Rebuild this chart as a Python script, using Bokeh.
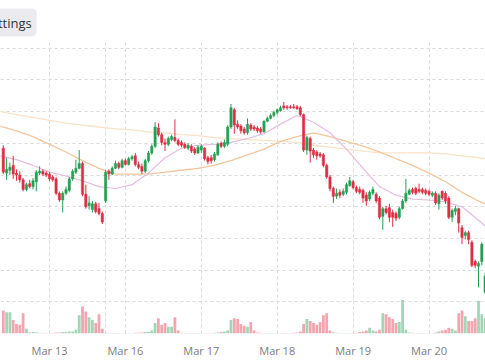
from bokeh.plotting import figure
from bokeh.models import Range1d, FixedTicker, ColumnDataSource
from bokeh.embed import file_html
from bokeh.resources import INLINE

# hourly candle index (0 = Mar 13 00:00, weekend skipped)
hour_index = list(range(-14, 133))

opens = [350, 324, 327, 332, 324, 322, 317, 307, 313, 310,
         315, 324, 326, 324, 323, 320, 318, 303, 296, 303,
         306, 318, 325, 329, 334, 302, 290, 286, 292, 287,
         282, 295, 326, 323, 329, 334, 330, 337, 333, 339,
         342, 333, 331, 326, 337, 345, 352, 371, 364, 356,
         354, 359, 361, 358, 356, 354, 350, 352, 349, 345,
         348, 350, 340, 340, 338, 343, 355, 352, 354, 372,
         390, 375, 373, 370, 366, 374, 372, 371, 370, 367,
         378, 381, 384, 387, 389, 394, 393, 393, 393, 393,
         392, 385, 348, 360, 348, 346, 344, 343, 332, 320,
         308, 300, 304, 302, 304, 311, 315, 309, 307, 306,
         301, 297, 303, 302, 298, 279, 287, 288, 283, 282,
         278, 287, 295, 302, 307, 308, 307, 307, 306, 305,
         301, 303, 292, 305, 303, 298, 278, 284, 287, 267,
         259, 262, 252, 232, 227, 232, 200]
closes = [325, 328, 330, 323, 322, 317, 307, 312, 310, 316,
          325, 326, 323, 322, 318, 317, 303, 296, 303, 307,
          318, 326, 329, 334, 302, 289, 293, 292, 284, 282,
          273, 325, 323, 329, 334, 330, 337, 333, 339, 341,
          333, 330, 326, 337, 345, 352, 372, 364, 356, 354,
          360, 362, 358, 354, 353, 351, 353, 347, 345, 351,
          352, 339, 336, 337, 344, 354, 352, 356, 372, 392,
          374, 372, 368, 366, 375, 370, 370, 368, 367, 378,
          381, 384, 387, 390, 392, 392, 392, 392, 392, 391,
          385, 348, 361, 347, 343, 342, 342, 332, 320, 308,
          300, 303, 301, 305, 312, 316, 309, 305, 304, 298,
          295, 304, 307, 295, 278, 287, 283, 278, 278, 277,
          287, 295, 303, 306, 304, 303, 305, 304, 303, 302,
          303, 293, 301, 298, 295, 278, 285, 287, 272, 257,
          262, 255, 228, 228, 230, 250, 217]
highs = [353, 340, 335, 342, 328, 326, 319, 314, 317, 319,
         327, 331, 328, 326, 325, 322, 320, 305, 305, 310,
         320, 328, 338, 348, 336, 312, 300, 295, 294, 293,
         284, 327, 328, 331, 337, 336, 339, 339, 341, 343,
         345, 336, 334, 339, 347, 354, 377, 376, 366, 360,
         362, 364, 380, 360, 358, 356, 355, 354, 351, 353,
         354, 351, 342, 343, 346, 356, 357, 359, 374, 396,
         392, 379, 375, 372, 381, 376, 374, 373, 372, 379,
         383, 386, 389, 391, 394, 398, 395, 395, 396, 395,
         394, 386, 363, 362, 350, 348, 346, 345, 334, 322,
         310, 308, 307, 308, 314, 320, 317, 311, 310, 308,
         304, 306, 310, 304, 300, 289, 290, 292, 286, 284,
         289, 297, 318, 308, 309, 310, 313, 309, 308, 307,
         305, 305, 303, 306, 305, 300, 287, 290, 288, 270,
         264, 264, 254, 234, 232, 252, 220]
lows = [323, 317, 322, 318, 316, 314, 305, 305, 308, 307,
        305, 322, 321, 320, 316, 315, 301, 294, 283, 301,
        304, 316, 323, 328, 300, 287, 286, 283, 282, 280,
        271, 293, 317, 322, 328, 328, 329, 332, 332, 337,
        331, 328, 323, 324, 335, 343, 350, 362, 353, 347,
        352, 357, 356, 352, 351, 349, 348, 345, 343, 344,
        345, 337, 333, 334, 336, 342, 350, 350, 352, 370,
        365, 370, 365, 364, 364, 368, 368, 366, 365, 366,
        377, 380, 382, 385, 388, 390, 390, 391, 391, 390,
        383, 346, 343, 335, 340, 338, 340, 330, 318, 305,
        293, 297, 298, 300, 302, 310, 307, 303, 302, 293,
        290, 295, 301, 293, 276, 265, 281, 273, 268, 274,
        276, 286, 293, 301, 302, 301, 303, 302, 301, 300,
        299, 291, 286, 296, 292, 276, 273, 280, 262, 250,
        255, 250, 226, 225, 205, 228, 198]
volumes = [24, 22, 22, 14, 10, 9, 21, 5, 1, 1.5,
           1, 0.8, 0.6, 0.6, 0.5, 0.5, 1, 1, 1.5, 1.5,
           2, 2, 4, 19, 28, 23, 17, 14, 11, 20,
           5, 0.8, 0.6, 0.5, 0.5, 0.5, 0.4, 0.4, 0.5, 0.6,
           0.8, 0.8, 1, 1.5, 1.5, 3, 11, 16, 9, 11,
           7, 7, 17, 3, 0.8, 0.6, 0.5, 0.5, 0.5, 0.4,
           0.4, 0.5, 0.5, 0.6, 0.8, 1, 1.5, 2, 3, 14,
           16, 15, 10, 8, 7, 12, 3, 1, 0.8, 0.6,
           0.6, 0.5, 0.5, 0.4, 0.4, 0.5, 0.5, 0.6, 0.8, 1,
           2, 10, 15, 13, 11, 9, 12, 19, 21, 3,
           1, 0.8, 0.6, 0.5, 0.5, 0.5, 0.4, 0.4, 1.5, 2,
           3, 6, 3, 2, 4, 21, 20, 17, 15, 11,
           12, 35, 4, 1, 0.8, 0.6, 0.5, 0.5, 0.4, 0.4,
           0.5, 1, 2, 3, 4, 6, 5, 3, 21, 24,
           18, 13, 13, 16, 34, 20, 16]

# moving averages, sampled every 5 candles
ma_index = [-15, -10, -5, 0, 5, 10, 15, 20, 25, 30, 35, 40, 45, 50, 55, 60,
            65, 70, 75, 80, 85, 90, 95, 100, 105, 110, 115, 120, 125, 130, 132]
ma_fast = [342, 338, 332, 325, 321, 316, 310, 308, 312, 324, 340, 350, 353, 354, 356, 360,
           365, 375, 384, 377, 366, 349, 329, 310, 301, 297, 296, 294, 289, 275, 269]
ma_mid = [373, 368, 362, 354, 346, 337, 329, 323, 323, 323, 325, 327, 329, 332, 337, 343,
          349, 357, 362, 366, 362, 357, 352, 346, 339, 332, 324, 315, 304, 295, 292]
ma_slow = [388, 385, 382, 379, 376, 374, 372, 370, 369, 367, 366, 364, 363, 361, 360, 359,
           358, 357, 356, 353, 351, 349, 347, 345, 345, 345, 345, 344, 342, 340, 339]

tick_pos = [0, 17, 23, 46, 69, 92, 115]
tick_labels = ["Mar 13", "", "Mar 16", "Mar 17", "Mar 18", "Mar 19", "Mar 20"]
price_grid = [454, 421, 388, 355, 322, 289, 256, 223, 190]

UP, DOWN = "#22a052", "#dd2e44"
VUP, VDOWN = "#a3d6b6", "#f4a6b0"

up = [c >= o for o, c in zip(opens, closes)]
src = ColumnDataSource(dict(
    i=hour_index, open=opens, close=closes, high=highs, low=lows, vol=volumes,
    top=[max(o, c) for o, c in zip(opens, closes)],
    bot=[min(o, c) for o, c in zip(opens, closes)],
    color=[UP if u else DOWN for u in up],
    vcolor=[VUP if u else VDOWN for u in up],
))

p = figure(width=485, height=360, output_backend="svg", toolbar_location=None,
           x_range=Range1d(-14.85, 132.12), y_range=Range1d(157, 460),
           min_border_left=0, min_border_right=0, min_border_top=40, min_border_bottom=17,
           title="Settings")
p.outline_line_color = None
p.background_fill_color = "white"
p.border_fill_color = "white"
p.extra_y_ranges = {"vol": Range1d(0, 303)}

t = p.title
t.align = "left"
t.offset = -22
t.text_font = "Open Sans"
t.text_font_size = "13px"
t.text_font_style = "normal"
t.text_color = "#333333"
t.background_fill_color = "#ebebef"
t.padding = 5
t.border_radius = 5
t.standoff = 12

p.yaxis.visible = False
p.ygrid.ticker = FixedTicker(ticks=price_grid)
p.xaxis.ticker = FixedTicker(ticks=tick_pos)
p.xgrid.ticker = FixedTicker(ticks=tick_pos)
p.xaxis.major_label_overrides = {t_: l for t_, l in zip(tick_pos, tick_labels)}
for g in (p.xgrid, p.ygrid):
    g.grid_line_color = "#d9d9d9"
    g.grid_line_dash = "3 3"
    g.grid_line_width = 1
p.xaxis.axis_line_color = None
p.xaxis.major_tick_line_color = None
p.xaxis.minor_tick_line_color = None
p.xaxis.major_label_text_font = "Open Sans"
p.xaxis.major_label_text_font_size = "11px"
p.xaxis.major_label_text_color = "#7d7d7d"
p.xaxis.major_label_standoff = 3

p.vbar(x="i", top="vol", bottom=0, width=0.85, fill_color="vcolor", line_color=None,
       y_range_name="vol", source=src)

p.line(ma_index, ma_slow, line_color="#f8e2c8", line_width=1.3)
p.line(ma_index, ma_mid, line_color="#f2c69c", line_width=1.3)
p.line(ma_index, ma_fast, line_color="#e6bde0", line_width=1.2)

p.segment(x0="i", y0="high", x1="i", y1="low", line_color="color", line_width=1, source=src)
p.vbar(x="i", top="top", bottom="bot", width=0.7, fill_color="color", line_color="color",
       line_width=0.5, source=src)

open("out.html", "w").write(file_html(p, INLINE))
